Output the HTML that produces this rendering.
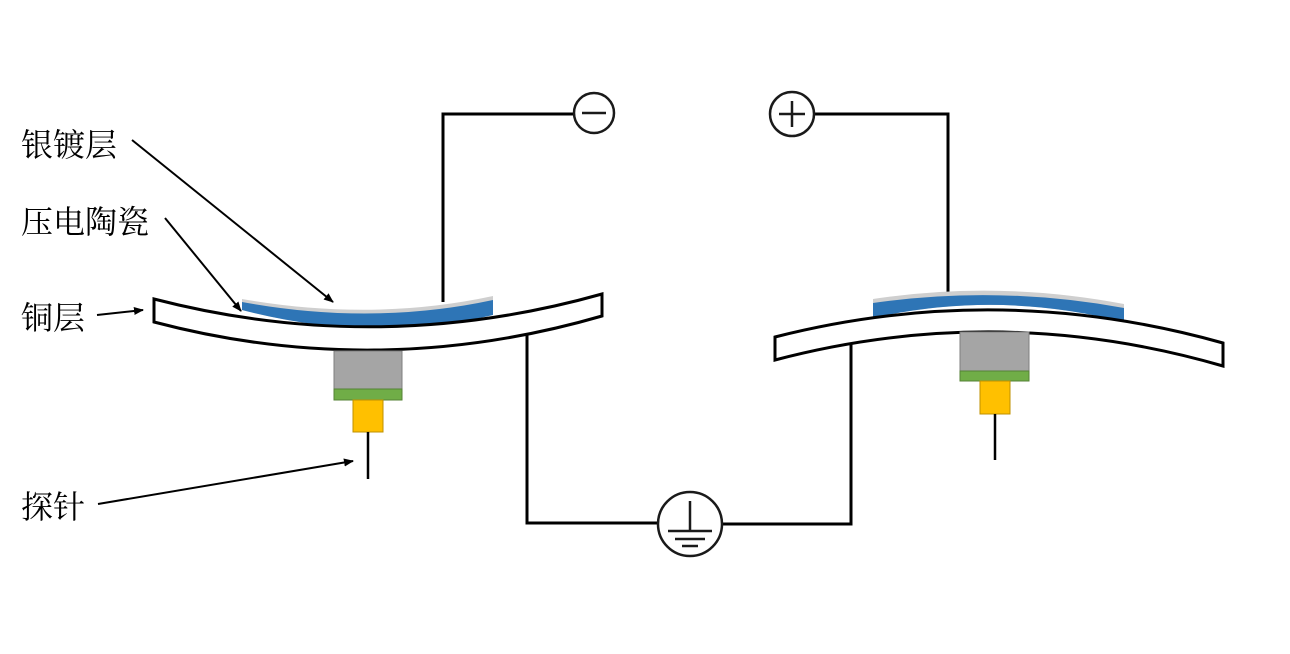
<!DOCTYPE html>
<html><head><meta charset="utf-8"><style>
html,body{margin:0;padding:0;background:#fff;width:1290px;height:654px;overflow:hidden}
text{font-family:"Liberation Serif","Noto Serif CJK SC",serif;font-size:32px;fill:#000}
</style></head><body>
<svg width="1290" height="654" viewBox="0 0 1290 654">
<defs><marker id="ah" markerWidth="10" markerHeight="8" refX="9" refY="4" orient="auto" markerUnits="userSpaceOnUse"><path d="M0,0 L10,4 L0,8 z" fill="#000"/></marker></defs>
<g fill="none" stroke="#000" stroke-width="3">
<polyline points="443,302 443,114 574,114"/>
<polyline points="814,114 948,114 948,293"/>
<polyline points="527,333 527,523 658,523"/>
<polyline points="722,524 851,524 851,343"/>
</g>
<g>
<path d="M242,299 Q372,322 493,296 L493,315 Q372,344 242,310 Z" fill="#cfcfcf"/>
<path d="M242,302 Q372,326 493,300 L493,315 Q372,344 242,310 Z" fill="#2e75b6"/>
<path d="M154,299 Q378,357 602,294 L602,316 Q378,381 154,322 Z" fill="#fff" stroke="#000" stroke-width="3"/>
<rect x="334" y="351" width="68" height="38" fill="#a5a5a5" stroke="#7f7f7f"/>
<rect x="334" y="389" width="68" height="11" fill="#70ad47" stroke="#548235"/>
<rect x="353" y="400" width="30" height="32" fill="#ffc000" stroke="#bf9000"/>
<line x1="368" y1="432" x2="368" y2="479" stroke="#000" stroke-width="2.5"/>
</g>
<g>
<path d="M873,299 Q998,280 1124,304 L1124,322 Q998,290 873,318 Z" fill="#cfcfcf"/>
<path d="M873,303 Q998,285 1124,308 L1124,322 Q998,290 873,318 Z" fill="#2e75b6"/>
<path d="M775,337 Q999,280 1223,343 L1223,366 Q999,301 775,360 Z" fill="#fff" stroke="#000" stroke-width="3"/>
<rect x="960" y="332" width="69" height="39" fill="#a5a5a5" stroke="#7f7f7f"/>
<rect x="960" y="371" width="69" height="10" fill="#70ad47" stroke="#548235"/>
<rect x="980" y="381" width="30" height="33" fill="#ffc000" stroke="#bf9000"/>
<line x1="995" y1="414" x2="995" y2="460" stroke="#000" stroke-width="2.5"/>
</g>
<g fill="#fff" stroke="#1a1a1a" stroke-width="2.5">
<g><circle cx="594" cy="113" r="20"/><line x1="582" y1="113" x2="606" y2="113"/></g>
<g><circle cx="792" cy="114" r="22"/><line x1="779" y1="114" x2="805" y2="114"/><line x1="792" y1="101" x2="792" y2="127"/></g>
<g><circle cx="690" cy="524" r="32"/><line x1="690" y1="501" x2="690" y2="531"/><line x1="668" y1="531" x2="712" y2="531"/><line x1="675" y1="539" x2="705" y2="539"/><line x1="682" y1="546" x2="698" y2="546"/></g>
</g>
<g stroke="#000" stroke-width="2">
<line x1="132" y1="140" x2="333" y2="302" marker-end="url(#ah)"/>
<line x1="165" y1="218" x2="241" y2="311" marker-end="url(#ah)"/>
<line x1="97" y1="315" x2="143" y2="310" marker-end="url(#ah)"/>
<line x1="98" y1="504" x2="353" y2="461" marker-end="url(#ah)"/>
</g>
<text x="21" y="156">银镀层</text>
<text x="21" y="233">压电陶瓷</text>
<text x="21" y="329">铜层</text>
<text x="21" y="518">探针</text>
</svg>
</body></html>
